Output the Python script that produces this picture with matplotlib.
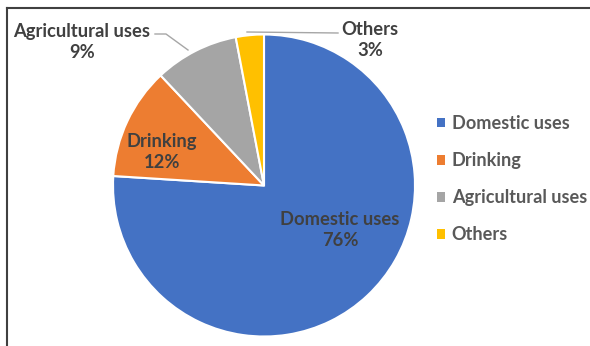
import matplotlib.pyplot as plt
from matplotlib.lines import Line2D

categories = ['Domestic uses', 'Drinking', 'Agricultural uses', 'Others']
shares = [76, 12, 9, 3]
colors = ['#4472C4', '#ED7D31', '#A5A5A5', '#FFC000']

W, H = 590, 346
plt.rcParams['font.family'] = ['Lato', 'DejaVu Sans']

fig = plt.figure(figsize=(W / 100, H / 100), dpi=100)
ax = fig.add_axes([0, 0, 1, 1])


def py(y):
    # pixel rows counted from the top
    return H - y


wedges, _ = ax.pie(shares, colors=colors, startangle=90, counterclock=False,
                   explode=[0.02] * 4, radius=151, center=(264, py(185.5)),
                   wedgeprops=dict(edgecolor='white', linewidth=1.5),
                   frame=True)
ax.set_xlim(0, W)
ax.set_ylim(0, H)
ax.axis('off')

# data labels
label_style = dict(ha='center', va='center', fontsize=13.2, fontweight='bold',
                   color='#404040', linespacing=1.3)
label_pos = [(340, 230), (162, 152), (82, 42), (370, 40)]
for name, v, (x, y) in zip(categories, shares, label_pos):
    ax.text(x, py(y), f'{name}\n{v}%', **label_style)

# leader lines for the outside labels
ax.plot([155, 166, 188], [py(34), py(34), py(50)], color='#A6A6A6', lw=1)
ax.plot([247, 338], [py(32), py(33)], color='#A6A6A6', lw=1)

leg = ax.legend(wedges, categories, loc='upper left',
                bbox_to_anchor=(430 / W, 1 - 108 / H), frameon=False,
                prop=dict(size=13.1, weight='bold'), labelcolor='#595959',
                handlelength=0.42, handleheight=0.42, handletextpad=0.38,
                labelspacing=1.1, borderaxespad=0)
for h in leg.legend_handles:
    h.set_edgecolor('none')

# chart border (top and left edges only)
fig.add_artist(Line2D([6.5 / W, 1], [1 - 7.5 / H, 1 - 7.5 / H],
                      color='#404040', lw=1.5))
fig.add_artist(Line2D([6.5 / W, 6.5 / W], [0, 1 - 7.5 / H],
                      color='#404040', lw=1.5))

fig.savefig('out.png', dpi=100)
